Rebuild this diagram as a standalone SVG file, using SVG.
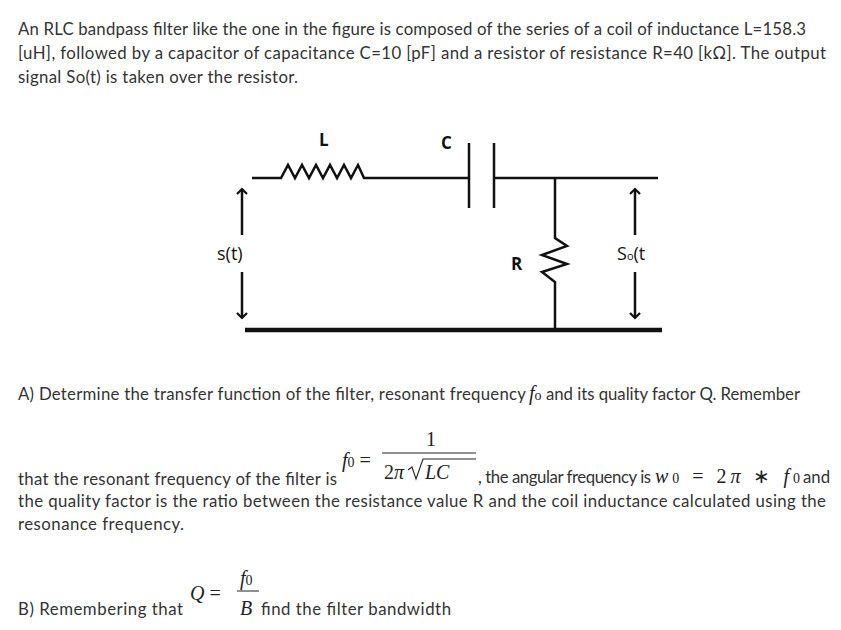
<svg xmlns="http://www.w3.org/2000/svg" width="841" height="630" viewBox="0 0 841 630">
<style>
.t{font-family:Lato,"Open Sans",sans-serif;font-size:16.8px;fill:#333}
.m{font-family:"Liberation Serif",serif;font-size:20px;fill:#222}
.mi{font-family:"Liberation Serif",serif;font-size:20px;font-style:italic;fill:#222}
.lb{font-family:"Open Sans",sans-serif;font-size:17px;font-weight:bold;fill:#111}
.lbn{font-family:"Open Sans",sans-serif;font-size:18px;fill:#111}
.w{stroke:#111;stroke-width:2.5;fill:none}
</style>
<defs><marker id="a" viewBox="0 0 10 10" refX="5" refY="5" markerWidth="5" markerHeight="5" orient="auto-start-reverse"><path d="M1,1 L5,5 L1,9" fill="none" stroke="#111" stroke-width="1.8"/></marker></defs>
<rect width="841" height="630" fill="#fff"/>
<text class="t" x="18" y="35" textLength="788">An RLC bandpass filter like the one in the figure is composed of the series of a coil of inductance L=158.3</text>
<text class="t" x="18" y="59" textLength="808">[uH], followed by a capacitor of capacitance C=10 [pF] and a resistor of resistance R=40 [kΩ]. The output</text>
<text class="t" x="18" y="83" textLength="280">signal So(t) is taken over the resistor.</text>
<g id="connectors">
<path class="w" d="M252,178 H281 L288,165 L295,178 L302,165 L309,178 L316,165 L323,178 L330,165 L337,178 L344,165 L351,178 L358,165 L364,178 H469"/>
<path class="w" d="M494,178 H658"/>
<path class="w" d="M555,178 V238 L567,246 L542,255 L567,264 L542,272 L555,282 V328"/>
<path d="M245,330 H662" stroke="#111" stroke-width="4.5"/>
<path class="w" d="M242,235 V189" marker-end="url(#a)"/>
<path class="w" d="M242,272 V318" marker-end="url(#a)"/>
<path class="w" d="M635,235 V189" marker-end="url(#a)"/>
<path class="w" d="M635,272 V318" marker-end="url(#a)"/>
</g>
<g id="L"><text class="lb" x="319" y="146">L</text></g>
<g id="C"><path class="w" d="M469,143 V208 M494,143 V208" stroke-width="3"/><text class="lb" x="441" y="149">C</text></g>
<g id="R"><text class="lb" x="511" y="270">R</text></g>
<g id="s"><text class="lbn" x="217" y="260">s(t)</text></g>
<g id="so"><text class="lbn" x="617" y="260">S<tspan font-size="11">o</tspan>(t</text></g>
<text class="t" x="18" y="400" textLength="508">A) Determine the transfer function of the filter, resonant frequency</text>
<text class="mi" x="529" y="400">f<tspan font-style="normal" font-size="14">o</tspan></text>
<text class="t" x="546" y="400" textLength="254">and its quality factor Q. Remember</text>
<text class="mi" x="342" y="467">f<tspan font-style="normal" font-size="14">0</tspan><tspan font-style="normal"> =</tspan></text>
<text class="m" x="426" y="446">1</text>
<line x1="382" y1="453" x2="476" y2="453" stroke="#222" stroke-width="1"/>
<text class="m" x="384" y="479">2<tspan font-style="italic">π</tspan></text>
<path d="M408,470 L412,467 L416,479 L423,459 H476" fill="none" stroke="#222" stroke-width="1.1"/>
<text class="mi" x="425" y="479">LC</text>
<text class="t" x="18" y="485" textLength="319">that the resonant frequency of the filter is</text>
<text class="t" x="478" y="483" textLength="173">, the angular frequency is</text>
<text class="mi" x="655" y="483" textLength="145">w<tspan font-style="normal" font-size="14">0</tspan><tspan font-style="normal"> = 2</tspan>π<tspan font-style="normal"> ∗ </tspan>f<tspan font-style="normal" font-size="14">0</tspan></text>
<text class="t" x="803" y="483">and</text>
<text class="t" x="18" y="507" textLength="808">the quality factor is the ratio between the resistance value R and the coil inductance calculated using the</text>
<text class="t" x="18" y="530" textLength="166">resonance frequency.</text>
<text class="t" x="18" y="615" textLength="165">B) Remembering that</text>
<text class="mi" x="190" y="600">Q<tspan font-style="normal"> =</tspan></text>
<text class="mi" x="240" y="585">f<tspan font-style="normal" font-size="14">0</tspan></text>
<line x1="237" y1="591" x2="259" y2="591" stroke="#222" stroke-width="1"/>
<text class="mi" x="240" y="615">B</text>
<text class="t" x="261" y="615" textLength="190">find the filter bandwidth</text>
</svg>
